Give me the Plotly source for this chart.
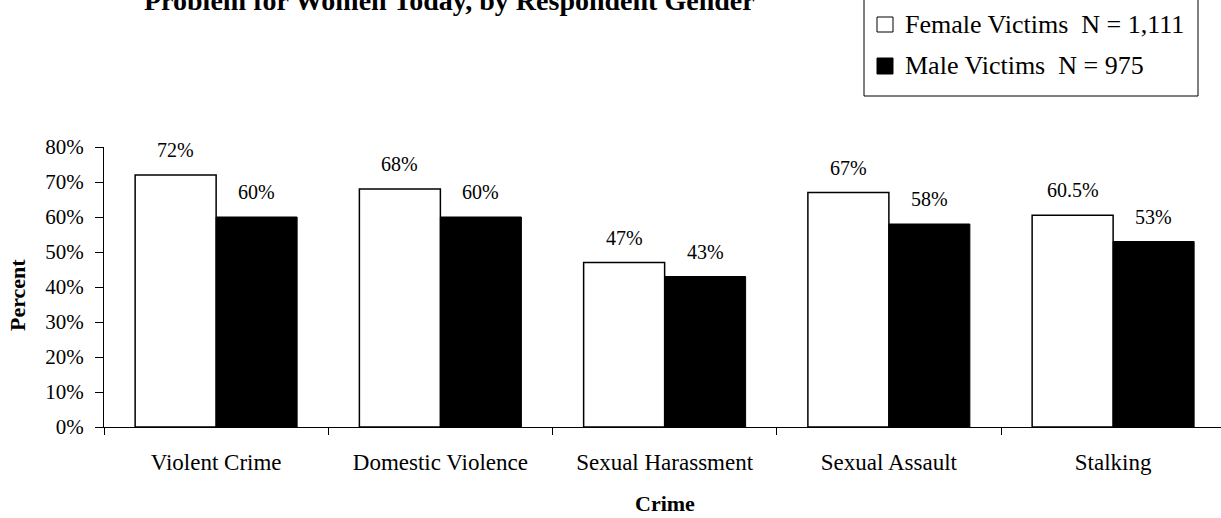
import plotly.graph_objects as go

# ── Data ──────────────────────────────────────────────────────────────────────
crimes = ["Violent Crime", "Domestic Violence", "Sexual Harassment",
          "Sexual Assault", "Stalking"]
female_pct = [72, 68, 47, 67, 60.5]
male_pct = [60, 60, 43, 58, 53]
female_labels = ["72%", "68%", "47%", "67%", "60.5%"]
male_labels = ["60%", "60%", "43%", "58%", "53%"]
y_ticks = [0, 10, 20, 30, 40, 50, 60, 70, 80]
y_ticklabels = [f"{v}%" for v in y_ticks]

SERIF = "Liberation Serif, Times New Roman, serif"

# pixel geometry of the plot area (figure is 1221 x 518)
W, H = 1221, 518
L, T, B = 104, 147, 91
PW, PH = W - L, H - T - B
CAT_W = 224.25                     # pixel width of one category


def px(x):
    return (x - L) / PW


def py(y):
    return (H - B - y) / PH


fig = go.Figure()
fig.add_trace(go.Bar(
    x=crimes, y=female_pct, name="Female Victims  N = 1,111",
    marker=dict(color="white", line=dict(color="black", width=1.5)),
    showlegend=False,
))
fig.add_trace(go.Bar(
    x=crimes, y=male_pct, name="Male Victims  N = 975",
    marker=dict(color="black", line=dict(color="black", width=1)),
    showlegend=False,
))

# value labels above the bars
half = CAT_W * (1 - 0.2776) / 4
for c, v, t in zip(crimes, female_pct, female_labels):
    fig.add_annotation(x=c, y=v, text=t, showarrow=False, xshift=-half,
                       yshift=25, font=dict(size=20, color="black", family=SERIF))
for c, v, t in zip(crimes, male_pct, male_labels):
    fig.add_annotation(x=c, y=v, text=t, showarrow=False, xshift=half,
                       yshift=25, font=dict(size=20, color="black", family=SERIF))

# title (top line is cut off by the page edge in the source)
fig.add_annotation(
    xref="paper", yref="paper", x=px(449), y=py(0),
    text="<b>Problem for Women Today, by Respondent Gender</b>",
    showarrow=False, xanchor="center", yanchor="middle",
    font=dict(size=28, color="black", family=SERIF),
)

# axis titles
fig.add_annotation(
    xref="paper", yref="paper", x=px(17), y=py(295), text="<b>Percent</b>",
    textangle=-90, showarrow=False, xanchor="center", yanchor="middle",
    font=dict(size=22, color="black", family=SERIF),
)
fig.add_annotation(
    xref="paper", yref="paper", x=px(665), y=py(503), text="<b>Crime</b>",
    showarrow=False, xanchor="center", yanchor="middle",
    font=dict(size=22, color="black", family=SERIF),
)

# legend box drawn by hand
fig.add_shape(type="rect", xref="paper", yref="paper",
              x0=px(864), x1=px(1198), y0=py(96), y1=py(-20),
              line=dict(color="black", width=1), fillcolor="white")
fig.add_shape(type="rect", xref="paper", yref="paper",
              x0=px(877), x1=px(893), y0=py(32), y1=py(17),
              line=dict(color="black", width=1), fillcolor="white")
fig.add_shape(type="rect", xref="paper", yref="paper",
              x0=px(877), x1=px(893), y0=py(74), y1=py(58),
              line=dict(color="black", width=1), fillcolor="black")
fig.add_annotation(xref="paper", yref="paper", x=px(903), y=py(24),
                   text="Female Victims&nbsp;&nbsp;N = 1,111", showarrow=False,
                   xanchor="left", yanchor="middle",
                   font=dict(size=26, color="black", family=SERIF))
fig.add_annotation(xref="paper", yref="paper", x=px(903), y=py(66),
                   text="Male Victims&nbsp;&nbsp;N = 975", showarrow=False,
                   xanchor="left", yanchor="middle",
                   font=dict(size=26, color="black", family=SERIF))

fig.update_layout(
    width=W, height=H,
    margin=dict(l=L, r=0, t=T, b=B),
    paper_bgcolor="white", plot_bgcolor="white",
    barmode="group", bargap=0.2776, bargroupgap=0,
    font=dict(family=SERIF, color="black"),
    showlegend=False,
)
fig.update_xaxes(
    range=[-0.5, -0.5 + PW / CAT_W],
    showline=True, linecolor="black", linewidth=1,
    ticks="outside", tickson="boundaries", ticklen=7, tickcolor="black",
    ticklabelstandoff=14,
    tickfont=dict(size=23, family=SERIF, color="black"),
    showgrid=False, zeroline=False,
)
fig.update_yaxes(
    range=[0, 80], tickvals=y_ticks, ticktext=y_ticklabels,
    showline=True, linecolor="black", linewidth=1,
    ticks="outside", ticklen=8, tickcolor="black",
    ticklabelstandoff=7,
    tickfont=dict(size=21, family=SERIF, color="black"),
    showgrid=False, zeroline=False,
)

# drop the browser's default 8px body margin so the figure sits at 0,0
fig.write_html("out.html", config={"displayModeBar": False},
               post_script="document.body.style.margin='0';")
